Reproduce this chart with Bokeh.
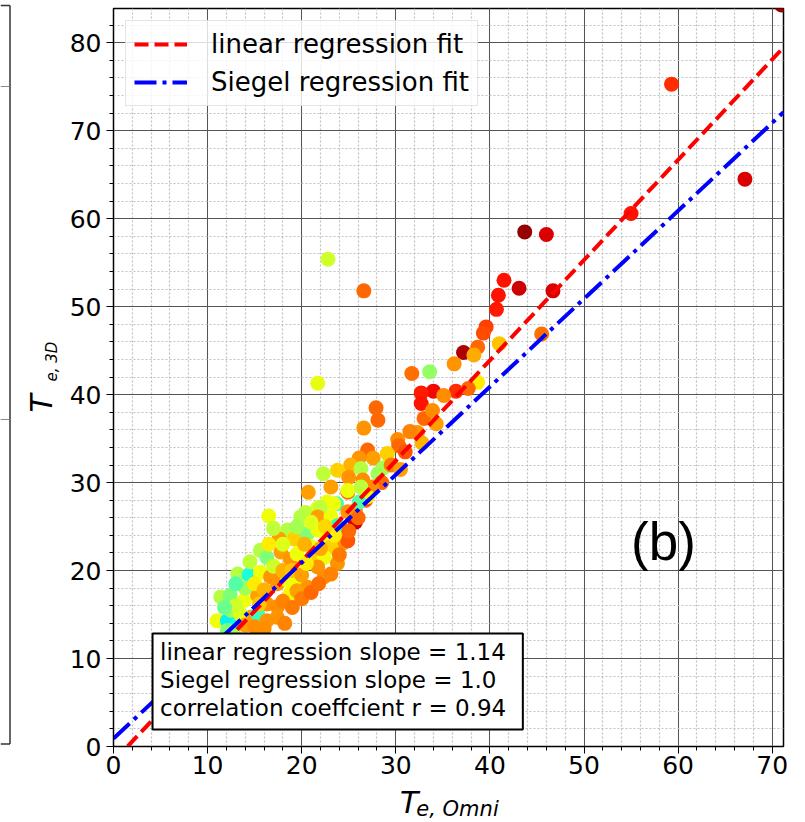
import numpy as np
from bokeh.plotting import figure
from bokeh.layouts import row, column
from bokeh.models import (ColumnDataSource, Label, BoxAnnotation, SingleIntervalTicker,
                          Legend, LegendItem, Range1d)
from bokeh.transform import linear_cmap
from bokeh.embed import file_html
from bokeh.resources import INLINE

# ---------------- data ----------------
te_omni = [71.0, 59.3, 67.1, 55.0, 43.7, 46.0, 41.5, 43.1, 46.7, 40.9, 40.7, 45.5,
           22.8, 26.6, 39.6, 39.3, 37.2, 38.7, 38.3, 41.0, 36.2, 33.6, 31.7, 38.7,
           21.7, 36.4, 34.0, 32.7, 35.1, 37.7, 32.7, 27.9, 28.1, 26.6, 33.0, 33.9,
           34.3, 32.3, 30.2, 30.3, 29.1, 27.0, 26.1, 27.6, 25.2, 26.3, 23.8, 22.3,
           28.1, 28.7, 25.0, 26.5, 20.7, 24.9, 23.7, 22.7, 21.7, 25.7, 20.4, 16.5,
           25.7, 29.5, 31.0, 28.5, 27.5, 26.8, 30.5, 32.8, 31.5,
           23.1, 24.9, 26.3, 27.0, 22.0, 23.4, 24.9, 26.1, 19.9, 21.7, 23.1, 23.8,
           18.5, 17.6, 19.2, 20.6, 21.7, 22.7, 24.5, 24.9, 23.1, 21.0, 15.6, 16.3,
           17.8, 18.8, 19.5, 21.0, 22.4, 23.8, 21.7, 13.2, 14.4, 15.6, 16.7, 17.4,
           18.5, 19.5, 20.6, 22.4, 23.1, 11.4, 12.4, 13.9, 15.3, 16.3, 17.4, 18.8,
           19.5, 11.0, 12.1, 13.2, 14.6, 15.3, 16.3, 17.4, 16.0, 12.1,
           12.5, 13.5, 14.0, 15.0, 16.0, 17.0, 18.0, 19.0, 20.0, 20.5, 18.0, 19.5,
           20.3, 22.0, 23.5, 24.0, 25.0, 26.0, 22.5, 21.0, 17.0, 16.5, 14.5, 13.0,
           15.5, 18.0, 19.0, 20.0, 21.0, 21.8, 14.0, 15.0, 18.2, 13.0, 11.8, 12.8]
te_3d = [84.3, 75.3, 64.5, 60.6, 58.5, 58.2, 53.0, 52.1, 51.8, 51.3, 49.7, 46.9,
         55.4, 51.8, 47.7, 47.0, 44.8, 45.4, 44.5, 45.8, 43.5, 42.6, 42.4, 41.4,
         41.3, 40.4, 40.4, 40.2, 39.9, 40.7, 39.0, 38.5, 37.1, 36.2, 37.3, 38.2,
         36.7, 35.7, 34.9, 34.2, 33.3, 33.7, 32.8, 32.8, 32.0, 31.6, 31.4, 31.0,
         31.0, 31.7, 30.6, 30.3, 28.9, 28.9, 27.6, 27.8, 27.1, 26.8, 26.6, 26.2,
         25.5, 32.0, 33.5, 30.0, 29.5, 28.0, 31.5, 34.5, 35.8,
         29.5, 29.1, 29.5, 28.4, 27.2, 27.6, 26.7, 27.8, 26.1, 26.1, 26.1, 25.1,
         24.6, 23.6, 23.6, 24.2, 24.6, 23.8, 23.2, 23.4, 22.7, 22.7, 22.3, 21.5,
         22.1, 21.3, 21.9, 21.3, 21.5, 20.8, 20.4, 19.6, 19.5, 19.8, 19.3, 18.5,
         18.9, 18.9, 18.1, 19.3, 19.6, 17.0, 17.2, 16.6, 17.2, 16.2, 15.9, 17.4,
         17.7, 14.3, 14.3, 13.9, 14.7, 15.1, 14.3, 14.7, 13.4, 13.2,
         15.5, 15.0, 18.0, 18.5, 17.8, 20.5, 20.0, 20.0, 19.5, 20.8, 23.0, 25.0,
         23.0, 22.5, 24.0, 21.8, 24.5, 26.0, 25.0, 25.5, 24.8, 23.0, 21.0, 18.5,
         16.2, 16.5, 15.8, 16.8, 17.5, 18.5, 13.8, 13.6, 14.0, 16.0, 15.8, 12.6]
c_val = [0.97, 0.86, 0.92, 0.89, 0.98, 0.92, 0.89, 0.93, 0.92, 0.89, 0.88, 0.79,
         0.60, 0.80, 0.84, 0.83, 0.96, 0.80, 0.73, 0.70, 0.75, 0.53, 0.79, 0.66,
         0.63, 0.86, 0.90, 0.88, 0.76, 0.80, 0.89, 0.80, 0.80, 0.75, 0.80, 0.76,
         0.74, 0.75, 0.76, 0.80, 0.69, 0.80, 0.75, 0.74, 0.72, 0.57, 0.69, 0.58,
         0.54, 0.55, 0.75, 0.76, 0.74, 0.79, 0.42, 0.64, 0.64, 0.76, 0.58, 0.64,
         0.93, 0.78, 0.82, 0.80, 0.76, 0.82, 0.74, 0.72, 0.77,
         0.74, 0.64, 0.58, 0.65, 0.58, 0.64, 0.75, 0.45, 0.57, 0.74, 0.64, 0.40,
         0.57, 0.74, 0.69, 0.50, 0.64, 0.64, 0.75, 0.82, 0.69, 0.64, 0.57, 0.50,
         0.74, 0.75, 0.64, 0.69, 0.64, 0.75, 0.75, 0.57, 0.38, 0.64, 0.75, 0.75,
         0.64, 0.64, 0.75, 0.76, 0.77, 0.57, 0.50, 0.64, 0.74, 0.75, 0.76, 0.65,
         0.74, 0.64, 0.36, 0.38, 0.74, 0.42, 0.75, 0.75, 0.76, 0.50,
         0.55, 0.62, 0.55, 0.66, 0.72, 0.60, 0.72, 0.70, 0.74, 0.66, 0.62, 0.55,
         0.72, 0.73, 0.66, 0.78, 0.80, 0.80, 0.68, 0.62, 0.58, 0.66, 0.58, 0.45,
         0.70, 0.77, 0.78, 0.78, 0.80, 0.79, 0.74, 0.76, 0.77, 0.60, 0.48, 0.55]

lin_slope, lin_icpt = 1.14, -1.7
sie_slope, sie_icpt = 1.0, 0.9
lin_x = [1.5, 71.2]
sie_x = [0.0, 71.2]

legend_labels = ["linear regression fit", "Siegel regression fit"]
stats_lines = ["linear regression slope = 1.14",
               "Siegel regression slope = 1.0",
               "correlation coeffcient r = 0.94"]
panel_tag = "(b)"
x_label_main, x_label_sub = "T", "e, Omni"
y_label_main, y_label_sub = "T", "e, 3D"

# ---------------- jet palette ----------------
t = np.linspace(0, 1, 256)
r = np.interp(t, [0, 0.35, 0.66, 0.89, 1], [0, 0, 1, 1, 0.5])
g = np.interp(t, [0, 0.125, 0.375, 0.64, 0.91, 1], [0, 0, 1, 1, 0, 0])
b = np.interp(t, [0, 0.11, 0.34, 0.65, 1], [0.5, 1, 1, 0, 0])
jet = ["#%02x%02x%02x" % (int(round(rr * 255)), int(round(gg * 255)), int(round(bb * 255)))
       for rr, gg, bb in zip(r, g, b)]

FONT = "DejaVu Sans"
SHIFT = 0.36          # renderer puts alphabetic baselines ~0.36 em low; compensate
LEFT_W = 66           # strip holding the y label
MAIN_W, MAIN_H = 805 - LEFT_W, 785
BOT_H = 35            # strip holding the x label
TOT_H = MAIN_H + BOT_H
PX_Y = 738 / 83.9     # pixels per y unit in the main frame

# ---------------- main plot ----------------
p = figure(width=MAIN_W, height=MAIN_H, x_range=Range1d(0, 71.2), y_range=Range1d(0, 83.9),
           output_backend="svg", toolbar_location=None,
           min_border_left=113 - LEFT_W, min_border_right=22, min_border_top=8,
           min_border_bottom=39)
p.background_fill_color = "white"
p.border_fill_color = "white"
p.outline_line_color = "black"
p.outline_line_width = 1.5

for ax in (p.xaxis[0], p.yaxis[0]):
    ax.ticker = SingleIntervalTicker(interval=10, num_minor_ticks=5)
    ax.axis_label = None
    ax.axis_line_color = "black"
    ax.major_tick_line_color = "black"
    ax.minor_tick_line_color = "black"
    ax.major_tick_out = 7
    ax.major_tick_in = 0
    ax.minor_tick_out = 4
    ax.minor_tick_in = 0
    ax.major_label_text_font = FONT
    ax.major_label_text_font_size = "25px"
    ax.major_label_text_color = "black"
p.xaxis.major_label_standoff = 2
p.yaxis.major_label_standoff = 5

for gr in (p.xgrid[0], p.ygrid[0]):
    gr.grid_line_color = "#555555"
    gr.grid_line_width = 1
    gr.minor_grid_line_color = "#c0c0c0"
    gr.minor_grid_line_dash = "2 2"
    gr.minor_grid_line_width = 1.2

src = ColumnDataSource(dict(x=te_omni, y=te_3d, c=c_val))
p.scatter("x", "y", source=src, size=15, line_color=None, fill_alpha=1.0,
          fill_color=linear_cmap("c", jet, 0, 1))

lin_y = [lin_slope * v + lin_icpt for v in lin_x]
sie_y = [sie_slope * v + sie_icpt for v in sie_x]
r1 = p.line(lin_x, lin_y, line_color="#ff0000", line_width=4, line_dash="14 6")
r2 = p.line(sie_x, sie_y, line_color="#0000ff", line_width=4, line_dash="22 6 4 6")

legend = Legend(items=[LegendItem(label=legend_labels[0], renderers=[r1]),
                       LegendItem(label=legend_labels[1], renderers=[r2])],
                location=(12, 738 - 15 - 83))
legend.label_text_font = FONT
legend.label_text_font_size = "26px"
legend.label_text_color = "black"
legend.glyph_width = 53
legend.glyph_height = 30
legend.label_standoff = 24
legend.padding = 8
legend.spacing = 8
legend.margin = 0
legend.border_line_color = "#cccccc"
legend.border_line_width = 1
legend.background_fill_color = "white"
legend.background_fill_alpha = 0.8
p.add_layout(legend)

# stats box
box = BoxAnnotation(left=4.15, right=43.5, bottom=1.93, top=12.86,
                    fill_color="white", fill_alpha=1.0,
                    line_color="black", line_alpha=1.0, line_width=2)
p.add_layout(box)
for txt, yy in zip(stats_lines, [9.79, 6.66, 3.48]):
    p.add_layout(Label(x=4.95, y=yy + SHIFT * 23 / PX_Y, text=txt, text_font=FONT,
                       text_font_size="23px", text_color="black",
                       text_baseline="alphabetic", text_align="left"))

p.add_layout(Label(x=55.0, y=21.17 + SHIFT * 53 / PX_Y, text=panel_tag,
                   text_font="Liberation Sans", text_font_size="53px", text_color="black",
                   text_baseline="alphabetic"))

# ---------------- bottom strip: x label ----------------
xb = figure(width=MAIN_W, height=BOT_H, x_range=Range1d(LEFT_W, LEFT_W + MAIN_W),
            y_range=Range1d(0, BOT_H), output_backend="svg", toolbar_location=None,
            x_axis_type=None, y_axis_type=None, min_border=0, outline_line_color=None)
xb.background_fill_color = "white"
xb.border_fill_color = "white"
xb.add_layout(Label(x=382, y=TOT_H - 812.5 + SHIFT * 30, text=x_label_main, text_font=FONT,
                    text_font_style="italic", text_font_size="30px",
                    text_baseline="alphabetic", text_align="left", text_color="black"))
xb.add_layout(Label(x=400, y=TOT_H - 816 + SHIFT * 21, text=x_label_sub, text_font=FONT,
                    text_font_style="italic", text_font_size="21px",
                    text_baseline="alphabetic", text_align="left", text_color="black"))

# ---------------- left strip: y label + edge of neighbouring panel ----------------
yl = figure(width=LEFT_W, height=TOT_H, x_range=Range1d(0, LEFT_W), y_range=Range1d(0, TOT_H),
            output_backend="svg", toolbar_location=None,
            x_axis_type=None, y_axis_type=None, min_border=0, outline_line_color=None)
yl.background_fill_color = "white"
yl.border_fill_color = "white"
yl.add_layout(Label(x=52 - SHIFT * 30, y=TOT_H - 412, text=y_label_main, text_font=FONT,
                    text_font_style="italic", text_font_size="30px",
                    text_baseline="alphabetic", text_align="left", angle=np.pi / 2,
                    text_color="black"))
yl.add_layout(Label(x=57 - SHIFT * 15, y=TOT_H - 381, text=y_label_sub, text_font=FONT,
                    text_font_style="italic", text_font_size="15px",
                    text_baseline="alphabetic", text_align="left", angle=np.pi / 2,
                    text_color="black"))
# neighbour panel frame edge and two of its grid lines
yl.segment(x0=[9.5, 0, 0], y0=[TOT_H - 5, TOT_H - 743.5, TOT_H - 5],
           x1=[9.5, 9.5, 9.5], y1=[TOT_H - 743.5, TOT_H - 743.5, TOT_H - 5],
           line_color="#333333", line_width=1.5)
yl.segment(x0=[0, 0], y0=[TOT_H - 86, TOT_H - 419], x1=[9, 9], y1=[TOT_H - 86, TOT_H - 419],
           line_color="#888888", line_width=1)

layout = row(yl, column(p, xb))
open("out.html", "w").write(file_html(layout, INLINE))
